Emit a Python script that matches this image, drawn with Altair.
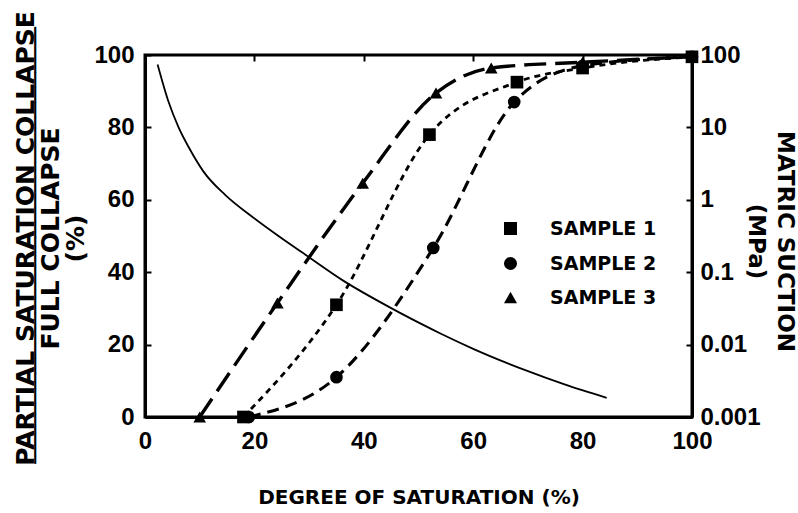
import altair as alt
import pandas as pd

# ---- data ----
sample_names = ["SAMPLE 1", "SAMPLE 2", "SAMPLE 3"]
s1_x = [18, 35, 52, 68, 80, 100]
s1_y = [0, 31, 78, 92.5, 96.4, 99.5]
s2_x = [19, 35, 52.7, 67.5, 80, 100]
s2_y = [0, 11, 46.7, 87, 97, 99.5]
s3_x = [10, 24.2, 39.8, 53.2, 63.3, 80, 100]
s3_y = [0, 31.5, 64.6, 89.5, 96.4, 98, 99.5]

suction_x = [2.3, 4.3, 6.1, 8.0, 10.7, 14.7, 19.6, 24.4, 28.7, 36.3, 44.0, 50.5,
             54.1, 60.2, 69.4, 76.7, 84.4]
suction_mpa = [74.1, 22.6, 10.2, 5.31, 2.45, 1.16, 0.582, 0.316, 0.188, 0.0759,
               0.0351, 0.0193, 0.0141, 0.0086, 0.00447, 0.00282, 0.00184]

x_ticks = [0, 20, 40, 60, 80, 100]
left_ticks = [0, 20, 40, 60, 80, 100]
right_ticks = [0.001, 0.01, 0.1, 1, 10, 100]

rows = []
for name, xs, ys in zip(sample_names, [s1_x, s2_x, s3_x], [s1_y, s2_y, s3_y]):
    for xv, yv in zip(xs, ys):
        rows.append({"sample": name, "series": name, "x": xv, "y": yv})
samples = pd.DataFrame(rows)
suction = pd.DataFrame({"x": suction_x, "mpa": suction_mpa})

NARROW = "Liberation Sans Narrow, Liberation Sans, Arial"
WIDE = "DejaVu Sans, Verdana"
NB = "\u00a0"

left_title = ["PARTIAL SATURATION COLLAPSE", NB * 5 + "FULL COLLAPSE", NB * 7 + "(%)"]
fraction_bar = "\u2500" * 29

x_enc = alt.X(
    "x:Q",
    scale=alt.Scale(domain=[0, 100], nice=False, zero=False),
    axis=alt.Axis(
        values=x_ticks, format="d", title="DEGREE OF SATURATION (%)",
        grid=True, gridDash=[6, 2000], gridColor="black", gridWidth=2, gridOpacity=1,
        ticks=False, labelPadding=12, labelFontSize=24, labelFont=NARROW,
        labelFontWeight="bold", titleFont=WIDE, titleFontSize=20,
        titleFontWeight="bold", titlePadding=34, labelFlush=False,
    ),
)

y_scale = alt.Scale(domain=[0, 100], nice=False)

# dash / width / size scales use the data domain (no explicit domain) so their
# hidden legends are not merged with the shape legend
lines = alt.Chart(samples).mark_line(interpolate="monotone", color="black").encode(
    x=x_enc,
    y=alt.Y(
        "y:Q", scale=y_scale,
        axis=alt.Axis(
            orient="left", values=left_ticks, format="d", title=left_title,
            grid=True, gridDash=[6, 2000], gridColor="black", gridWidth=2, gridOpacity=1,
            ticks=False, labelPadding=11, labelFontSize=24, labelFont=NARROW,
            labelFontWeight="bold", titleFont=WIDE, titleFontSize=25,
            titleFontWeight="bold", titleLineHeight=25,
            titleAngle=270, titleAlign="center", titleBaseline="middle",
            titleX=-120, titleY=183,
        ),
    ),
    detail="series:N",
    strokeDash=alt.StrokeDash(
        "series:N",
        scale=alt.Scale(range=[[6, 5], [12, 7], [22, 9]]),
        legend=None,
    ),
    strokeWidth=alt.StrokeWidth(
        "series:N",
        scale=alt.Scale(range=[2.8, 3.4, 2.0]),
        legend=None,
    ),
)

points = alt.Chart(samples).mark_point(filled=True, color="black", opacity=1).encode(
    x=x_enc,
    y=alt.Y("y:Q", scale=y_scale, axis=None),
    size=alt.Size("series:N", scale=alt.Scale(range=[160, 160, 230]), legend=None),
    shape=alt.Shape(
        "sample:N",
        scale=alt.Scale(domain=sample_names, range=["square", "circle", "triangle-up"]),
        legend=alt.Legend(
            title=None, orient="none", legendX=356, legendY=164,
            labelFont=WIDE, labelFontSize=19, labelFontWeight="bold",
            labelColor="black", symbolSize=170, symbolFillColor="black",
            symbolStrokeColor="black", rowPadding=14, labelOffset=30,
        ),
    ),
)

bar_layer = alt.Chart(samples).mark_point(opacity=0).encode(
    x=x_enc,
    y=alt.Y(
        "y:Q", scale=y_scale,
        axis=alt.Axis(
            orient="left", labels=False, ticks=False, domain=False, grid=False,
            title=fraction_bar, titleFont="DejaVu Sans", titleFontSize=25,
            titleFontWeight="normal", titleAngle=270, titleAlign="center",
            titleBaseline="middle", titleX=-110, titleY=190,
        ),
    ),
)

curve = alt.Chart(suction).mark_line(interpolate="monotone", color="black", strokeWidth=1.8).encode(
    x=x_enc,
    y=alt.Y(
        "mpa:Q",
        scale=alt.Scale(type="log", domain=[0.001, 100], nice=False),
        axis=alt.Axis(
            orient="right", values=right_ticks, format="~g",
            title=["MATRIC SUCTION", "(MPa)"],
            grid=True, gridDash=[6, 2000], gridColor="black", gridWidth=2, gridOpacity=1,
            ticks=False, labelPadding=8, labelFontSize=24, labelFont=NARROW,
            labelFontWeight="bold", titleFont=WIDE, titleFontSize=23,
            titleFontWeight="bold", titleLineHeight=29,
            titleAngle=90, titleAlign="center", titleBaseline="middle",
            titleX=92, titleY=186,
        ),
    ),
)

chart = (
    alt.layer(lines, points, curve, bar_layer)
    .resolve_scale(y="independent")
    .properties(
        width=547, height=362,
        padding={"left": 145, "top": 55, "right": 106, "bottom": 96},
        autosize=alt.AutoSizeParams(type="none"),
        background="white",
    )
    .configure_view(stroke="black", strokeWidth=3)
    .configure_axis(domainColor="black", domainWidth=3, labelColor="black", titleColor="black")
)

chart.save("out.html", embed_options={"renderer": "svg", "actions": False})
